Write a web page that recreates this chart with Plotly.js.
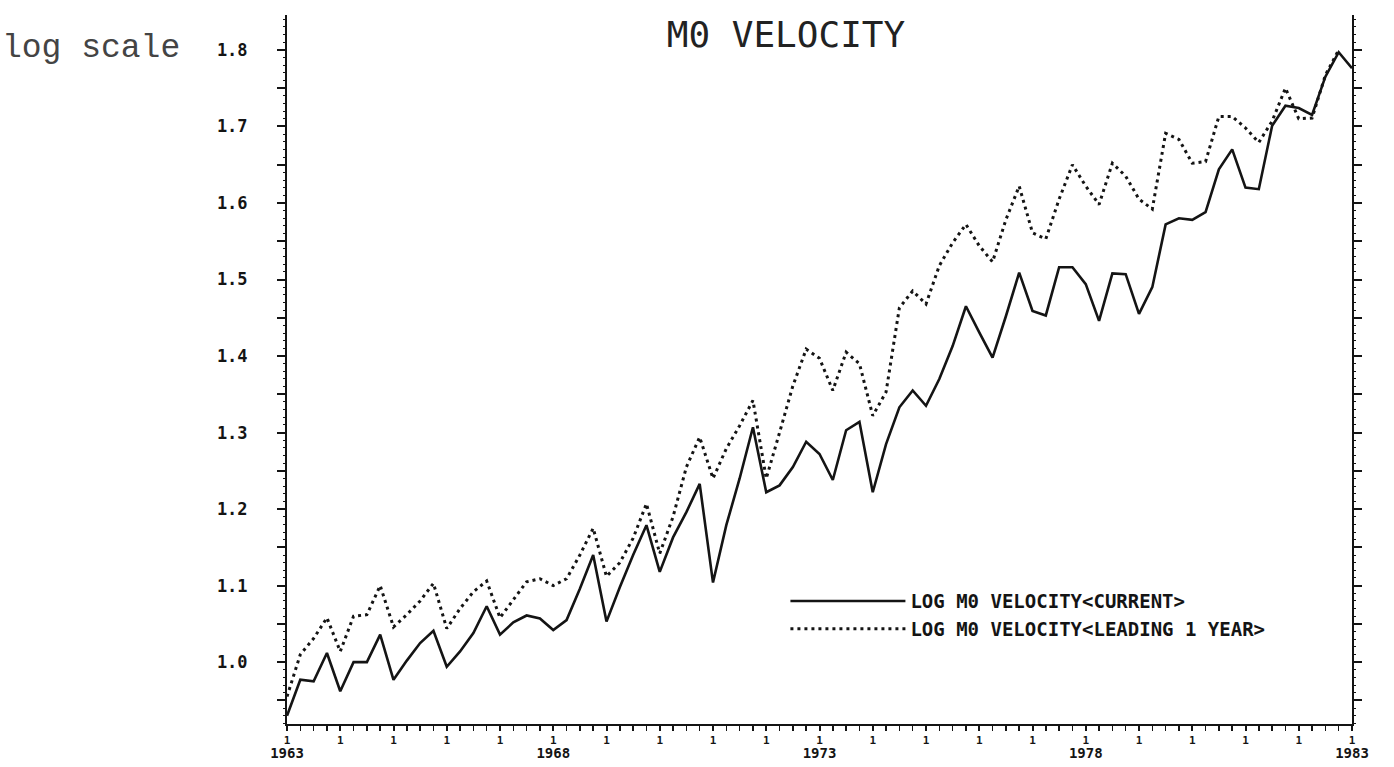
<!DOCTYPE html>
<html>
<head>
<meta charset="utf-8">
<script src="https://cdn.plot.ly/plotly-3.0.1.min.js"></script>
<style>
  html, body { margin: 0; padding: 0; background: #fff; }
  #chart { width: 1394px; height: 767px; }
</style>
</head>
<body>
<div id="chart"></div>
<script>
// Quarterly observations, 1963Q1 .. 1983Q1
const startYear = 1963;

const currentVelocity = [
  0.930, 0.977, 0.975, 1.012,   // 1963
  0.962, 1.000, 1.000, 1.036,   // 1964
  0.977, 1.002, 1.025, 1.041,   // 1965
  0.994, 1.014, 1.038, 1.073,   // 1966
  1.036, 1.052, 1.061, 1.057,   // 1967
  1.042, 1.055, 1.096, 1.140,   // 1968
  1.053, 1.098, 1.140, 1.179,   // 1969
  1.118, 1.163, 1.196, 1.233,   // 1970
  1.104, 1.179, 1.240, 1.307,   // 1971
  1.222, 1.231, 1.255, 1.288,   // 1972
  1.272, 1.238, 1.303, 1.314,   // 1973
  1.222, 1.285, 1.333, 1.355,   // 1974
  1.335, 1.370, 1.413, 1.465,   // 1975
  1.431, 1.398, 1.452, 1.509,   // 1976
  1.459, 1.453, 1.516, 1.516,   // 1977
  1.494, 1.446, 1.508, 1.507,   // 1978
  1.455, 1.490, 1.572, 1.580,   // 1979
  1.578, 1.588, 1.644, 1.670,   // 1980
  1.620, 1.618, 1.701, 1.727,   // 1981
  1.724, 1.715, 1.765, 1.797,   // 1982
  1.776                         // 1983
];

const leadingVelocity = [
  0.955, 1.010, 1.031, 1.058,   // 1963
  1.014, 1.060, 1.062, 1.100,   // 1964
  1.046, 1.062, 1.080, 1.103,   // 1965
  1.044, 1.070, 1.092, 1.106,   // 1966
  1.058, 1.081, 1.105, 1.109,   // 1967
  1.100, 1.109, 1.140, 1.175,   // 1968
  1.112, 1.130, 1.162, 1.207,   // 1969
  1.142, 1.190, 1.255, 1.294,   // 1970
  1.240, 1.279, 1.309, 1.342,   // 1971
  1.240, 1.300, 1.361, 1.409,   // 1972
  1.397, 1.355, 1.405, 1.390,   // 1973
  1.322, 1.353, 1.463, 1.485,   // 1974
  1.468, 1.518, 1.548, 1.572,   // 1975
  1.544, 1.523, 1.578, 1.622,   // 1976
  1.561, 1.553, 1.605, 1.650,   // 1977
  1.622, 1.598, 1.652, 1.635,   // 1978
  1.605, 1.592, 1.691, 1.683,   // 1979
  1.652, 1.654, 1.713, 1.713,   // 1980
  1.698, 1.679, 1.707, 1.750,   // 1981
  1.710, 1.711, 1.767, 1.800    // 1982
];

const seriesNames = ['LOG M0 VELOCITY<CURRENT>', 'LOG M0 VELOCITY<LEADING 1 YEAR>'];
const yearTicks = [1963,1964,1965,1966,1967,1968,1969,1970,1971,1972,1973,1974,1975,1976,1977,1978,1979,1980,1981,1982,1983];
const yearTickText = yearTicks.map(() => '1');
const labelYears = [1963, 1968, 1973, 1978, 1983];
const labelYearText = ['1963', '1968', '1973', '1978', '1983'];
const yTickVals = [0.95,1.0,1.05,1.1,1.15,1.2,1.25,1.3,1.35,1.4,1.45,1.5,1.55,1.6,1.65,1.7,1.75,1.8];
const yTickText = ['', '1.0', '', '1.1', '', '1.2', '', '1.3', '', '1.4', '', '1.5', '', '1.6', '', '1.7', '', '1.8'];

const quarterX = arr => arr.map((_, i) => startYear + i / 4);

const ink = '#141414';
const monoFont = 'DejaVu Sans Mono, monospace';

const traces = [
  {
    x: quarterX(currentVelocity), y: currentVelocity,
    type: 'scatter', mode: 'lines', name: seriesNames[0],
    line: { color: ink, width: 2.6 },
    xaxis: 'x', yaxis: 'y'
  },
  {
    x: quarterX(leadingVelocity), y: leadingVelocity,
    type: 'scatter', mode: 'lines', name: seriesNames[1],
    line: { color: ink, width: 3, dash: '3px,4px' },
    xaxis: 'x2', yaxis: 'y'
  }
];

const layout = {
  width: 1394, height: 767,
  margin: { l: 287, r: 42, t: 15, b: 43 },
  paper_bgcolor: '#ffffff', plot_bgcolor: '#ffffff',
  showlegend: true,
  legend: {
    x: 0.468, y: 0.2, xanchor: 'left', yanchor: 'top',
    bgcolor: 'rgba(0,0,0,0)', borderwidth: 0,
    itemwidth: 115, tracegroupgap: 0,
    font: { family: monoFont, size: 19, color: ink, weight: 'bold' }
  },
  title: {
    text: 'M0 VELOCITY',
    font: { family: monoFont, size: 36, color: '#222' },
    x: 0.4685, xref: 'paper', xanchor: 'center',
    y: 0.955, yref: 'container', yanchor: 'middle'
  },
  xaxis: {
    range: [1963, 1983], showgrid: false, zeroline: false,
    showline: true, linecolor: ink, linewidth: 2,
    tickmode: 'array', tickvals: yearTicks, ticktext: yearTickText,
    ticks: 'outside', ticklen: 5, tickwidth: 2, tickcolor: ink,
    tickfont: { family: monoFont, size: 11, color: ink, weight: 'bold' },
    ticklabelstandoff: 0,
    minor: { dtick: 0.25, tick0: 1963, ticks: 'outside', ticklen: 5, tickwidth: 1.5, tickcolor: ink, showgrid: false }
  },
  xaxis2: {
    range: [1963, 1983], overlaying: 'x', anchor: 'y', side: 'bottom',
    showgrid: false, zeroline: false, showline: false, ticks: '',
    tickmode: 'array', tickvals: labelYears, ticktext: labelYearText,
    tickfont: { family: monoFont, size: 14, color: ink, weight: 'bold' },
    ticklabelstandoff: 19
  },
  yaxis: {
    range: [0.9192, 1.8456], showgrid: false, zeroline: false,
    showline: true, linecolor: ink, linewidth: 2, mirror: 'ticks',
    tickmode: 'array', tickvals: yTickVals, ticktext: yTickText,
    ticks: 'outside', ticklen: 8, tickwidth: 2, tickcolor: ink,
    tickfont: { family: monoFont, size: 17, color: ink, weight: 'bold' },
    ticklabelstandoff: 26,
    minor: { dtick: 0.01, tick0: 0.9, ticks: 'outside', ticklen: 2, tickwidth: 1, tickcolor: ink, showgrid: false }
  },
  annotations: [
    {
      text: 'log scale', xref: 'paper', yref: 'paper',
      x: -0.2695, y: 0.953, xanchor: 'left', yanchor: 'middle',
      showarrow: false,
      font: { family: 'Liberation Mono, monospace', size: 33, color: '#444' }
    }
  ]
};

Plotly.newPlot('chart', traces, layout, { displayModeBar: false, staticPlot: true });
</script>
</body>
</html>
